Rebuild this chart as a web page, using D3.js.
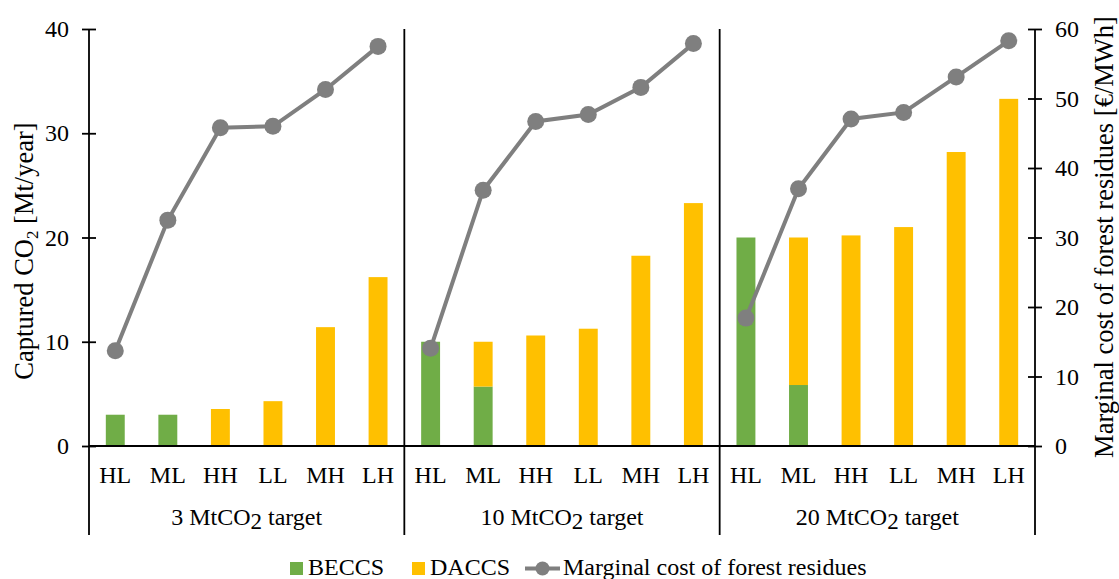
<!DOCTYPE html>
<html>
<head>
<meta charset="utf-8">
<script src="https://cdn.jsdelivr.net/npm/d3@7"></script>
<style>
  body { margin: 0; background: #fff; }
  svg { display: block; font-family: "Liberation Serif", "DejaVu Serif", serif; }
</style>
</head>
<body>
<svg id="chart" width="1119" height="579"></svg>
<script>
// data
const targets = [3, 10, 20]
const scenarios = ["HL", "ML", "HH", "LL", "MH", "LH"]
const beccs = [
    [3, 3, 0, 0, 0, 0],
    [10, 5.7, 0, 0, 0, 0],
    [20, 5.85, 0, 0, 0, 0]
]
const daccs = [
    [0, 0, 3.55, 4.3, 11.4, 16.2],
    [0, 4.3, 10.6, 11.25, 18.25, 23.3],
    [0, 14.15, 20.2, 21.0, 28.2, 33.3]
]
const cost = [
    [13.7, 32.5, 45.8, 46.0, 51.3, 57.5],
    [14.05, 36.8, 46.7, 47.7, 51.6, 57.9],
    [18.4, 37.0, 47.05, 48.0, 53.1, 58.3]
]
const leftTicks = [0, 10, 20, 30, 40]
const rightTicks = [0, 10, 20, 30, 40, 50, 60]

const GREEN = "#70AD47"
const YELLOW = "#FFC000"
const GREY = "#7F7F7F"
const FS = "24px"

const svg = d3.select("#chart")
const LEFT = 89, RIGHT = 1035, TOP = 29, BASE = 446, BOTTOM = 535

let x0 = d3.scaleBand()
    .domain(targets)
    .range([LEFT, RIGHT])
    .padding(0)
let x1 = d3.scaleBand()
    .domain(scenarios)
    .range([0, x0.bandwidth()])
    .paddingInner(0.64)
    .paddingOuter(0.32)
let yL = d3.scaleLinear().domain([0, 40]).range([BASE, TOP])
let yR = d3.scaleLinear().domain([0, 60]).range([BASE, TOP])

// bars (stacked BECCS + DACCS)
targets.forEach((t, gi) => {
    let g = svg.append("g").attr("transform", `translate(${x0(t)},0)`)
    scenarios.forEach((s, si) => {
        let b = beccs[gi][si], d = daccs[gi][si]
        if (b > 0) {
            g.append("rect")
                .attr("x", x1(s))
                .attr("width", x1.bandwidth())
                .attr("y", yL(b))
                .attr("height", yL(0) - yL(b))
                .style("fill", GREEN)
        }
        if (d > 0) {
            g.append("rect")
                .attr("x", x1(s))
                .attr("width", x1.bandwidth())
                .attr("y", yL(b + d))
                .attr("height", yL(b) - yL(b + d))
                .style("fill", YELLOW)
        }
    })
})

// baseline
svg.append("line")
    .attr("x1", LEFT).attr("x2", RIGHT)
    .attr("y1", BASE).attr("y2", BASE)
    .style("stroke", "#000").style("stroke-width", 1.8)

// vertical lines: axes and group separators
targets.concat([null]).forEach(t => {
    let xp = t === null ? RIGHT : x0(t)
    svg.append("line")
        .attr("x1", xp).attr("x2", xp)
        .attr("y1", TOP).attr("y2", BOTTOM)
        .style("stroke", "#000").style("stroke-width", 1.8)
})

// axes
let axL = svg.append("g")
    .attr("transform", `translate(${LEFT},0)`)
    .call(d3.axisLeft(yL).tickValues(leftTicks).tickSize(7).tickPadding(13))
let axR = svg.append("g")
    .attr("transform", `translate(${RIGHT},0)`)
    .call(d3.axisRight(yR).tickValues(rightTicks).tickSize(7).tickPadding(13))
axL.select(".domain").remove()
axR.select(".domain").remove()
axL.selectAll(".tick line").attr("x1", 7).style("stroke", "#000").style("stroke-width", 1.8)
axR.selectAll(".tick line").attr("x1", -7).style("stroke", "#000").style("stroke-width", 1.8)
svg.selectAll(".tick text")
    .style("font-family", "Liberation Serif")
    .style("font-size", FS)
    .style("fill", "#000")

// line: marginal cost, one segment per target group
let line = d3.line()
    .x(d => d.x)
    .y(d => yR(d.v))
targets.forEach((t, gi) => {
    let pts = scenarios.map((s, si) => ({ x: x0(t) + x1(s) + x1.bandwidth() / 2, v: cost[gi][si] }))
    svg.append("path")
        .datum(pts)
        .attr("d", line)
        .style("fill", "none")
        .style("stroke", GREY)
        .style("stroke-width", 4)
    svg.selectAll(null)
        .data(pts)
        .enter()
        .append("circle")
        .attr("cx", d => d.x)
        .attr("cy", d => yR(d.v))
        .attr("r", 8.5)
        .style("fill", GREY)
})

// category labels
targets.forEach(t => {
    svg.selectAll(null)
        .data(scenarios)
        .enter()
        .append("text")
        .text(d => d)
        .attr("x", d => x0(t) + x1(d) + x1.bandwidth() / 2)
        .attr("y", 483)
        .style("text-anchor", "middle")
        .style("font-size", FS)
})

// group labels
targets.forEach(t => {
    let txt = svg.append("text")
        .attr("x", x0(t) + x0.bandwidth() / 2)
        .attr("y", 525)
        .style("text-anchor", "middle")
        .style("font-size", FS)
    txt.append("tspan").text(`${t} MtCO`)
    txt.append("tspan").text("2").attr("dy", 4).style("font-size", "23px")
    txt.append("tspan").text(" target").attr("dy", -4)
})

// axis titles
let tl = svg.append("text")
    .attr("transform", "translate(33,251) rotate(-90)")
    .style("text-anchor", "middle")
    .style("font-size", "26.5px")
tl.append("tspan").text("Captured CO")
tl.append("tspan").text("2").attr("dy", 5).style("font-size", "17px")
tl.append("tspan").text(" [Mt/year]").attr("dy", -5)

svg.append("text")
    .attr("transform", "translate(1113,237) rotate(-90)")
    .style("text-anchor", "middle")
    .style("font-size", "26.5px")
    .text("Marginal cost of forest residues [€/MWh]")

// legend
let lg = svg.append("g")
lg.append("rect").attr("x", 290).attr("y", 562).attr("width", 13).attr("height", 13).style("fill", GREEN)
lg.append("text").text("BECCS").attr("x", 308).attr("y", 575).style("font-size", FS)
lg.append("rect").attr("x", 412).attr("y", 562).attr("width", 13).attr("height", 13).style("fill", YELLOW)
lg.append("text").text("DACCS").attr("x", 430).attr("y", 575).style("font-size", FS)
lg.append("line").attr("x1", 525).attr("x2", 560).attr("y1", 568.5).attr("y2", 568.5)
    .style("stroke", GREY).style("stroke-width", 4)
lg.append("circle").attr("cx", 542.5).attr("cy", 568.5).attr("r", 7).style("fill", GREY)
lg.append("text").text("Marginal cost of forest residues").attr("x", 563).attr("y", 575).style("font-size", FS)
</script>
</body>
</html>
